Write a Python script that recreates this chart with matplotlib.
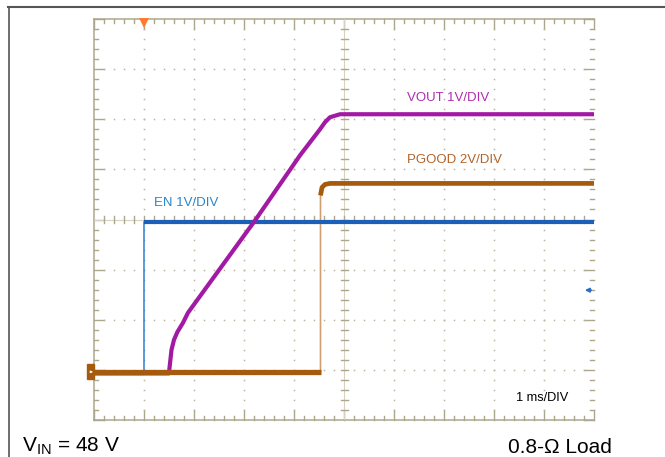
import numpy as np
import matplotlib
matplotlib.use('Agg')
import matplotlib.pyplot as plt
from matplotlib.lines import Line2D
from matplotlib.patches import Rectangle

plt.rcParams['font.family'] = ['Liberation Sans', 'DejaVu Sans']

# scope traces, time in ms (EN edge = 0), values in volts
en_t = [-1.0, 0.0, 0.0, 9.0]
en_v = [-0.03, -0.03, 3.0, 3.0]

vout_t = [-1.0, 0.50, 0.51, 0.55, 0.60, 0.67, 0.78, 0.88, 2.22, 3.12, 3.52, 3.62, 3.72, 3.92, 9.0]
vout_v = [-0.03, -0.03, 0.08, 0.44, 0.64, 0.80, 0.98, 1.18, 3.02, 4.32, 4.84, 4.98, 5.08, 5.14, 5.14]

pg_t = [-1.0, 3.53, 3.53, 3.56, 3.62, 3.72, 9.0]
pg_v = [0.0, 0.0, 7.04, 7.36, 7.48, 7.52, 7.52]

# volts per division
en_scale = 1.0
vout_scale = 1.0
pg_scale = 2.0

labels = ['VOUT 1V/DIV', 'PGOOD 2V/DIV', 'EN 1V/DIV']
time_label = '1 ms/DIV'
vin_label = r'$\mathregular{V_{IN}}$ = 48 V'
load_label = '0.8-Ω Load'

W, H = 665, 457
fig = plt.figure(figsize=(W / 100, H / 100), dpi=100)
fig.patch.set_facecolor('white')
ax = fig.add_axes([94 / W, 37 / H, 500 / W, 401 / H])
ax.axis('off')

x0, x1 = -1.0, 9.0
gnd = 0.96
y0, y1 = -gnd, 8 - gnd
ax.set_xlim(x0, x1)
ax.set_ylim(y0, y1)

gcol = '#aca78c'
dcol = '#bab59e'

# graticule border (no right edge line)
ax.plot([x0, x0], [y0, y1], color=gcol, lw=1.1, clip_on=False)
ax.plot([x0, x1], [y1, y1], color=gcol, lw=1.1, clip_on=False)
ax.plot([x0, x1], [y0, y0], color=gcol, lw=1.1, clip_on=False)

# edge ticks
for j in range(51):
    x = x0 + 0.2 * j
    ln = 0.2 if j % 5 == 0 else 0.08
    ax.plot([x, x], [y1, y1 - ln], color=gcol, lw=1.0, clip_on=False)
    ax.plot([x, x], [y0, y0 + ln], color=gcol, lw=1.0, clip_on=False)
for j in range(41):
    y = y0 + 0.2 * j
    ln = 0.2 if j % 5 == 0 else 0.08
    ax.plot([x0, x0 + ln], [y, y], color=gcol, lw=1.0, clip_on=False)
    ax.plot([x1, x1 - ln], [y, y], color=gcol, lw=1.0, clip_on=False)

# dotted division lines
dots_y = y0 + 0.2 * np.arange(1, 40)
dots_x = x0 + 0.2 * np.arange(1, 50)
for k in range(1, 10):
    if k == 5:
        continue
    ax.plot(np.full(dots_y.size, x0 + k), dots_y, ls='none', marker='s', ms=1.1,
            mew=0, color=dcol)
for k in range(1, 8):
    if k == 4:
        continue
    ax.plot(dots_x, np.full(dots_x.size, y0 + k), ls='none', marker='s', ms=1.1,
            mew=0, color=dcol)

# centre cross with ticks
xc, yc = x0 + 5, y0 + 4
ax.plot([xc, xc], [y0, y1], color='#d6d2c0', lw=0.8)
ax.plot([x0, x1], [yc, yc], color='#d6d2c0', lw=0.8)
for j in range(1, 40):
    y = y0 + 0.2 * j
    ax.plot([xc - 0.07, xc + 0.07], [y, y], color=gcol, lw=1.0)
for j in range(1, 50):
    x = x0 + 0.2 * j
    ax.plot([x, x], [yc - 0.07, yc + 0.07], color=gcol, lw=1.0)

# traces
en_y = np.array(en_v) / en_scale
vout_y = np.array(vout_v) / vout_scale
pg_y = np.array(pg_v) / pg_scale

ax.plot(pg_t, pg_y, color='#cf9f72', lw=1.2, zorder=2)
ax.plot(en_t[1:3], en_y[1:3], color='#2f80d8', lw=1.1, zorder=2)
ax.plot(en_t[:2], en_y[:2], color='#1b5fb8', lw=3.0, zorder=3, solid_capstyle='butt')
ax.plot(en_t[2:], en_y[2:], color='#1b5fb8', lw=3.0, zorder=3, solid_capstyle='butt')
ax.plot(vout_t, vout_y, color='#a21aa3', lw=3.0, zorder=4, solid_capstyle='butt',
        solid_joinstyle='round')
ax.plot(pg_t[:2], pg_y[:2], color='#a65a0d', lw=3.8, zorder=5, solid_capstyle='butt')
ax.plot(pg_t[2:], pg_y[2:], color='#a65a0d', lw=3.4, zorder=5, solid_capstyle='butt',
        solid_joinstyle='round')

# markers: trigger, ground, level arrow
ax.plot([0], [y1 - 0.07], marker='v', ms=6.5, mew=0, color='#ff7a30', clip_on=False, zorder=6)
ax.add_patch(Rectangle((x0 - 0.146, -0.15), 0.146, 0.30, color='#a65a0d', clip_on=False, zorder=6))
ax.annotate('', xy=(x0 - 0.02, 0), xytext=(x0 - 0.12, 0),
            arrowprops=dict(arrowstyle='-|>', color='white', lw=0.6, mutation_scale=3.5),
            annotation_clip=False, zorder=7)
ax.annotate('', xy=(x1 - 0.24, 1.63), xytext=(x1, 1.63),
            arrowprops=dict(arrowstyle='-|>', color='#2d6fc4', lw=1.3, mutation_scale=6),
            annotation_clip=False, zorder=6)

# channel labels
ax.text(0.626, 0.7945, labels[0], transform=ax.transAxes, color='#b02cb0', fontsize=9.5,
        va='baseline', ha='left')
ax.text(0.626, 0.6416, labels[1], transform=ax.transAxes, color='#b0642a', fontsize=9.5,
        va='baseline', ha='left')
ax.text(0.12, 0.5327, labels[2], transform=ax.transAxes, color='#2a86c8', fontsize=9.5,
        va='baseline', ha='left')
ax.text(0.845, 0.0469, time_label, transform=ax.transAxes, color='black', fontsize=9.2,
        va='baseline', ha='left')

# outer frame and bottom notes
fig.add_artist(Line2D([8.5 / W, 8.5 / W], [0, 1 - 6.5 / H], transform=fig.transFigure,
                      color='#555555', lw=1.2))
fig.add_artist(Line2D([8 / W, 1], [1 - 6.5 / H, 1 - 6.5 / H], transform=fig.transFigure,
                      color='#555555', lw=1.5))
fig.text(21.5 / W, 5.5 / H, vin_label, fontsize=15, va='baseline', ha='left')
fig.text(612 / W, 4 / H, load_label, fontsize=15, va='baseline', ha='right')

fig.savefig('out.png', dpi=100, facecolor='white')
